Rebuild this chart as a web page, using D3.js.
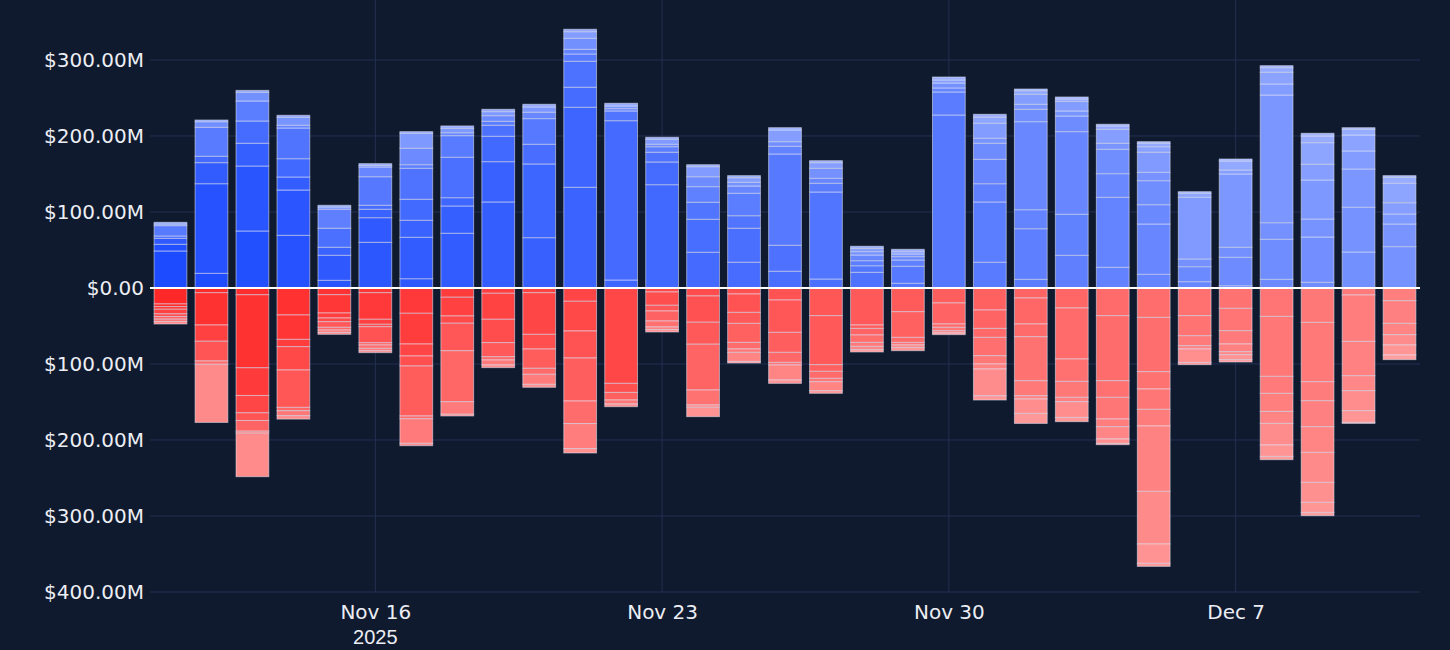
<!DOCTYPE html>
<html>
<head>
<meta charset="utf-8">
<script src="https://cdn.jsdelivr.net/npm/d3@7"></script>
<style>
  body { margin: 0; background: #101a2e; }
  svg { display: block; font-family: "DejaVu Sans", Verdana, sans-serif; }
</style>
</head>
<body>
<svg id="chart" width="1450" height="650"></svg>
<script>
// one entry per day, values in $M, segments listed from the zero line outwards
const days = ["2025-11-11","2025-11-12","2025-11-13","2025-11-14","2025-11-15","2025-11-16","2025-11-17",
  "2025-11-18","2025-11-19","2025-11-20","2025-11-21","2025-11-22","2025-11-23","2025-11-24","2025-11-25",
  "2025-11-26","2025-11-27","2025-11-28","2025-11-29","2025-11-30","2025-12-01","2025-12-02","2025-12-03",
  "2025-12-04","2025-12-05","2025-12-06","2025-12-07","2025-12-08","2025-12-09","2025-12-10","2025-12-11"];

const inflows = [
  [48.7, 8.8, 7.9, 3.0, 13.6, 2.2, 2.2],
  [19.3, 117.9, 27.7, 8.4, 38.1, 7.4, 2.2],
  [75.0, 85.5, 29.9, 29.3, 26.3, 11.5, 2.5],
  [69.3, 59.6, 17.1, 24.1, 40.4, 3.6, 10.5, 2.6],
  [10.1, 32.9, 10.6, 25.0, 25.0, 3.0, 2.2],
  [60.1, 32.4, 11.1, 5.2, 37.6, 12.8, 2.2, 2.2],
  [12.2, 54.5, 22.4, 27.6, 40.8, 4.7, 21.6, 19.7, 2.2],
  [72.0, 35.9, 10.9, 53.2, 28.4, 3.9, 5.8, 3.1],
  [113.2, 53.0, 33.4, 14.5, 5.2, 7.4, 5.3, 3.1],
  [66.2, 97.0, 25.9, 33.7, 8.4, 7.0, 3.5],
  [132.5, 105.3, 26.3, 34.2, 9.6, 6.1, 14.5, 8.7, 3.2],
  [10.5, 209.6, 12.8, 3.0, 3.6, 3.5],
  [135.9, 29.9, 12.8, 7.3, 3.2, 6.6, 2.6],
  [47.0, 43.4, 22.4, 20.5, 13.1, 13.2, 2.6],
  [33.9, 44.7, 16.5, 29.5, 9.6, 4.8, 6.1, 2.7],
  [22.0, 34.2, 120.1, 10.1, 6.1, 15.4, 3.0],
  [11.8, 114.5, 11.5, 6.5, 13.2, 7.4, 2.6],
  [20.6, 8.7, 6.6, 7.5, 4.4, 4.4, 2.7],
  [6.2, 22.4, 8.2, 4.4, 3.5, 3.1, 3.1],
  [227.6, 30.3, 5.3, 6.5, 4.0, 3.9],
  [33.9, 79.3, 24.0, 32.1, 21.1, 6.6, 19.7, 7.9, 3.9],
  [11.4, 66.6, 25.0, 115.8, 16.3, 6.6, 13.2, 4.7, 2.2],
  [43.0, 54.0, 108.7, 20.6, 6.6, 12.7, 3.1, 2.6],
  [27.2, 92.1, 31.1, 32.1, 7.9, 18.4, 4.4, 2.2],
  [18.0, 66.2, 25.4, 31.6, 11.0, 26.4, 7.3, 4.5, 2.1],
  [8.3, 19.7, 10.2, 81.1, 5.3, 2.1],
  [3.0, 37.4, 13.2, 96.4, 5.3, 11.8, 2.6],
  [11.4, 52.7, 21.8, 168.0, 14.5, 15.4, 6.1, 2.6],
  [7.5, 59.6, 23.7, 51.3, 20.7, 28.4, 8.8, 3.5],
  [47.4, 58.8, 50.4, 23.7, 21.0, 7.5, 2.1],
  [54.4, 29.8, 13.2, 14.8, 25.6, 7.8, 2.2]
];

const outflows = [
  [21.0, 3.5, 3.5, 6.0, 3.6, 3.4, 3.2, 3.2],
  [6.2, 42.5, 21.4, 25.9, 4.4, 76.5],
  [8.9, 96.1, 36.4, 22.8, 10.1, 14.1, 2.6, 57.3],
  [35.5, 32.1, 9.6, 30.7, 49.2, 4.3, 6.6, 4.5],
  [8.8, 24.1, 6.6, 4.8, 7.5, 3.5, 3.1, 2.6],
  [6.2, 35.0, 6.6, 3.1, 21.1, 3.0, 4.4, 3.1, 2.6],
  [33.3, 40.4, 15.8, 13.1, 65.8, 3.6, 32.4, 3.1],
  [12.2, 24.6, 9.6, 36.1, 67.1, 16.5, 2.3],
  [7.0, 34.2, 30.7, 18.5, 4.3, 6.6, 3.5],
  [6.2, 54.8, 19.3, 25.4, 7.9, 13.2, 3.9],
  [17.5, 39.1, 35.5, 56.6, 29.7, 32.9, 5.8],
  [125.5, 11.9, 10.0, 5.2, 3.6],
  [5.3, 17.5, 7.5, 13.1, 7.9, 3.4, 3.2],
  [10.5, 34.6, 28.9, 60.2, 19.7, 3.0, 12.4],
  [7.9, 24.2, 14.5, 25.0, 8.7, 4.4, 11.9, 2.1],
  [15.8, 42.6, 26.3, 13.2, 3.4, 19.8, 4.4],
  [36.4, 64.5, 8.8, 9.2, 4.4, 11.8, 3.5],
  [48.7, 4.5, 8.6, 9.8, 5.2, 4.4, 3.0],
  [31.2, 33.8, 6.6, 3.4, 3.2, 4.3],
  [19.7, 27.7, 4.4, 4.4, 3.0, 2.2],
  [29.0, 24.2, 11.8, 24.1, 10.9, 6.6, 35.2, 5.6],
  [13.2, 34.2, 16.7, 57.9, 19.7, 4.4, 18.9, 13.2],
  [26.3, 67.1, 29.5, 21.0, 5.7, 20.7, 5.6],
  [36.4, 85.6, 21.9, 28.5, 10.1, 16.2, 5.8, 1.7],
  [38.7, 71.4, 22.8, 26.8, 21.9, 86.0, 69.2, 25.5, 4.0],
  [36.4, 26.4, 13.1, 4.4, 17.6, 3.0],
  [26.8, 29.4, 17.5, 10.1, 4.0, 6.5, 3.1],
  [37.4, 78.9, 22.4, 23.7, 15.8, 28.4, 15.0, 4.3],
  [45.3, 78.0, 25.0, 34.2, 33.8, 39.5, 26.3, 13.2, 4.3],
  [9.2, 61.1, 45.1, 19.7, 26.3, 15.4, 1.4],
  [16.7, 29.9, 14.8, 13.6, 13.2, 6.1]
];

const yTickValues = [-400, -300, -200, -100, 0, 100, 200, 300];
const xTickValues = ["2025-11-16", "2025-11-23", "2025-11-30", "2025-12-07"];

const svg = d3.select('#chart');
const width = 1450;
const height = 650;
const margin = { top: 0, right: 30, bottom: 58, left: 150 };
const innerWidth = width - margin.left - margin.right;
const innerHeight = height - margin.top - margin.bottom;

const parseDay = d3.utcParse('%Y-%m-%d');

const xScale = d3.scaleUtc()
  .domain([Date.UTC(2025, 10, 10, 12), Date.UTC(2025, 11, 11, 12)])
  .range([0, innerWidth]);

const yScale = d3.scaleLinear()
  .domain([-400, 378.9])
  .range([innerHeight, 0]);

const dayWidth = xScale(Date.UTC(2025, 10, 12)) - xScale(Date.UTC(2025, 10, 11));
const barWidth = dayWidth * 0.8;

const g = svg.append('g')
  .attr('transform', `translate(${margin.left},${margin.top})`);

// gridlines
const gridColor = '#223052';
g.append('g').selectAll('line').data(yTickValues.filter(d => d !== 0))
  .enter().append('line')
  .attr('x1', 0).attr('x2', innerWidth)
  .attr('y1', d => yScale(d)).attr('y2', d => yScale(d))
  .attr('stroke', gridColor).attr('stroke-width', 1);

g.append('g').selectAll('line').data(xTickValues.map(parseDay))
  .enter().append('line')
  .attr('x1', d => xScale(d)).attr('x2', d => xScale(d))
  .attr('y1', 0).attr('y2', innerHeight)
  .attr('stroke', gridColor).attr('stroke-width', 1);

// colour gets lighter with later days and with distance from zero
const blueTone = d3.interpolateRgb('#1d4bff', '#b2c2ff');
const redTone = d3.interpolateRgb('#ff2828', '#ffaaaa');
const tone = (di, i, n, k) => {
  const base = k * di / (days.length - 1);
  return base + (1 - base) * 0.75 * Math.pow(i / Math.max(n - 1, 1), 1.6);
};

const segments = [];
days.forEach((day, di) => {
  const date = parseDay(day);
  let acc = 0;
  inflows[di].forEach((v, i) => {
    segments.push({ date, y0: acc, y1: acc + v, color: blueTone(tone(di, i, inflows[di].length, 0.6)) });
    acc += v;
  });
  acc = 0;
  outflows[di].forEach((v, i) => {
    segments.push({ date, y0: -acc, y1: -(acc + v), color: redTone(tone(di, i, outflows[di].length, 0.66)) });
    acc += v;
  });
});

g.append('g').selectAll('rect').data(segments)
  .enter().append('rect')
  .attr('x', d => xScale(d.date) - barWidth / 2)
  .attr('width', barWidth)
  .attr('y', d => yScale(Math.max(d.y0, d.y1)))
  .attr('height', d => Math.abs(yScale(d.y0) - yScale(d.y1)))
  .attr('fill', d => d.color)
  .attr('stroke', 'rgba(225,230,245,0.55)')
  .attr('stroke-width', 1);

// zero line
g.append('line')
  .attr('x1', 0).attr('x2', innerWidth)
  .attr('y1', yScale(0)).attr('y2', yScale(0))
  .attr('stroke', '#ffffff').attr('stroke-width', 2);

const formatMoney = d => d === 0 ? '$0.00' : `$${Math.abs(d).toFixed(2)}M`;

const yAxis = d3.axisLeft(yScale)
  .tickValues(yTickValues)
  .tickSize(0)
  .tickPadding(6)
  .tickFormat(formatMoney);

const yAxisG = g.append('g').call(yAxis);
yAxisG.select('.domain').remove();
yAxisG.selectAll('text')
  .attr('fill', '#eceef4')
  .attr('font-size', 20)
  .attr('font-family', '"DejaVu Sans", Verdana, sans-serif');

const formatDate = d3.utcFormat('%b %-d');
const xAxis = d3.axisBottom(xScale)
  .tickValues(xTickValues.map(parseDay))
  .tickSize(0)
  .tickPadding(13)
  .tickFormat(formatDate);

const xAxisG = g.append('g').call(xAxis)
  .attr('transform', `translate(0,${innerHeight})`);
xAxisG.select('.domain').remove();
xAxisG.selectAll('text')
  .attr('fill', '#eceef4')
  .attr('font-size', 20)
  .attr('font-family', '"DejaVu Sans", Verdana, sans-serif');

xAxisG.append('text')
  .attr('x', xScale(parseDay(xTickValues[0])))
  .attr('y', 13)
  .attr('dy', '1.95em')
  .attr('text-anchor', 'middle')
  .attr('fill', '#eceef4')
  .attr('font-size', 20)
  .text('2025');
</script>
</body>
</html>
